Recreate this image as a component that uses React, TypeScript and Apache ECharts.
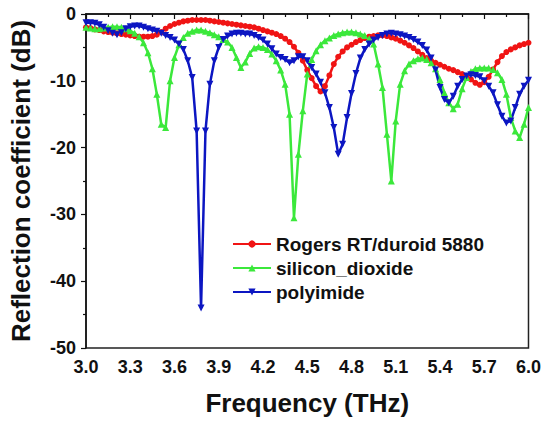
import React, { useEffect, useRef } from "react";
import * as echarts from "echarts";

// Frequency sample points (THz), 3.00 .. 6.00 every 0.03
const freq: number[] = Array.from({ length: 101 }, (_, i) => +(3 + i * 0.03).toFixed(2));

const rogers: number[] = [
  -2.0, -2.1, -2.3, -2.4, -2.6, -2.7, -2.8, -2.9, -3.0, -3.1,
  -3.2, -3.3, -3.4, -3.4, -3.4, -3.3, -3.1, -2.7, -2.2, -1.8,
  -1.5, -1.3, -1.1, -1.0, -0.9, -0.9, -0.9, -0.9, -1.0, -1.1,
  -1.2, -1.3, -1.4, -1.5, -1.6, -1.7, -1.8, -1.9, -2.0, -2.2,
  -2.4, -2.6, -2.8, -3.0, -3.3, -3.7, -4.2, -4.9, -5.8, -7.0,
  -8.4, -9.6, -10.8, -11.6, -10.8, -9.2, -7.5, -6.4, -5.6, -5.0,
  -4.6, -4.2, -3.9, -3.6, -3.4, -3.3, -3.2, -3.2, -3.3, -3.5,
  -3.7, -4.0, -4.3, -4.7, -5.1, -5.6, -6.1, -6.6, -7.0, -7.3,
  -7.6, -7.9, -8.2, -8.4, -8.7, -9.0, -9.4, -9.8, -10.3, -10.6,
  -10.2, -9.4, -8.3, -7.2, -6.3, -5.7, -5.3, -5.0, -4.7, -4.5,
  -4.3,
];

const siliconDioxide: number[] = [
  -2.0, -2.1, -2.2, -2.2, -2.1, -2.0, -1.9, -1.9, -2.0, -2.2,
  -2.5, -2.9, -3.4, -4.3, -5.8, -8.2, -12.0, -16.5, -17.0, -10.0,
  -6.5, -4.6, -3.5, -2.9, -2.6, -2.4, -2.4, -2.6, -2.8, -3.1,
  -3.4, -3.8, -4.2, -5.0, -6.5, -8.0, -7.2, -5.9, -5.1, -4.9,
  -5.0, -5.3, -6.0, -7.0, -8.4, -10.5, -15.0, -30.5, -21.0, -14.5,
  -9.0, -6.8, -5.5, -4.6, -4.0, -3.6, -3.2, -3.0, -2.8, -2.7,
  -2.7, -2.8, -3.0, -3.2, -3.7, -4.5, -7.5, -11.0, -18.0, -25.0,
  -16.0, -10.5, -8.5, -7.5, -7.0, -6.7, -6.6, -6.8, -7.3, -8.2,
  -9.8, -11.8, -13.3, -14.2, -13.5, -11.2, -9.5, -8.6, -8.2, -8.1,
  -8.1, -8.1, -8.3, -8.8, -9.8, -12.0, -15.5, -17.5, -18.5, -16.5,
  -14.0,
];

const polyimide: number[] = [
  -1.3, -1.3, -1.4, -1.6, -2.0, -2.5, -2.9, -3.1, -2.8, -2.2,
  -1.9, -1.8, -1.8, -2.0, -2.2, -2.4, -2.6, -2.9, -3.2, -3.5,
  -3.9, -4.5, -5.3, -7.0, -9.5, -17.5, -44.0, -17.5, -10.5, -7.0,
  -5.0, -3.8, -3.3, -3.0, -2.9, -2.9, -3.0, -3.0, -3.2, -3.5,
  -3.9, -4.5, -5.2, -6.0, -6.5, -6.8, -7.3, -7.0, -6.4, -6.4,
  -7.0, -8.0, -9.0, -10.2, -11.8, -14.0, -17.0, -21.0, -19.5, -15.5,
  -11.9, -8.9, -6.6, -5.3, -4.5, -3.9, -3.5, -3.2, -3.0, -2.9,
  -3.0, -3.1, -3.3, -3.5, -3.8, -4.2, -4.7, -5.4, -6.6, -8.4,
  -11.0, -12.8, -13.3, -12.3, -10.8, -9.8, -9.3, -9.1, -9.2, -9.4,
  -10.0, -10.8, -11.8, -13.6, -15.3, -16.3, -16.0, -14.0, -12.0, -10.8,
  -9.9,
];

const seriesNames = ["Rogers RT/duroid 5880", "silicon_dioxide", "polyimide"];
const colors = ["#f01414", "#3be83b", "#0c16c2"];

const FONT = "'Liberation Sans', Arial, sans-serif";

export default function App() {
  const ref = useRef<HTMLDivElement>(null);
  useEffect(() => {
    if (!ref.current) return;
    const chart = echarts.init(ref.current, undefined, { renderer: "svg" });
    const pair = (ys: number[]) => ys.map((y, i) => [freq[i], y]);
    chart.setOption({
      animation: false,
      backgroundColor: "#fff",
      grid: {
        left: 82,
        right: 15,
        top: 14,
        bottom: 75,
        show: true,
        borderColor: "#222",
        borderWidth: 1.5,
      },
      legend: {
        orient: "vertical",
        left: 227,
        top: 229,
        itemWidth: 38,
        itemHeight: 9,
        itemGap: 4,
        textStyle: {
          fontFamily: FONT,
          fontWeight: "bold",
          fontSize: 19,
          color: "#111",
          lineHeight: 20,
        },
        data: seriesNames,
      },
      xAxis: {
        type: "value",
        min: 3,
        max: 6,
        interval: 0.3,
        name: "Frequency (THz)",
        nameLocation: "middle",
        nameGap: 42,
        nameTextStyle: { fontFamily: FONT, fontWeight: "bold", fontSize: 26, color: "#111" },
        axisLine: { show: true, lineStyle: { color: "#111", width: 1.5 } },
        axisTick: { show: true, inside: false, length: 5, lineStyle: { color: "#111", width: 1.2 } },
        minorTick: { show: true, splitNumber: 2, length: 3, lineStyle: { color: "#111", width: 1.2 } },
        splitLine: { show: false },
        axisLabel: {
          margin: 10,
          fontFamily: FONT,
          fontWeight: "bold",
          fontSize: 18,
          color: "#111",
          formatter: (v: number) => v.toFixed(1),
        },
      },
      yAxis: {
        type: "value",
        min: -50,
        max: 0,
        interval: 10,
        name: "Reflection coefficient (dB)",
        nameLocation: "middle",
        nameGap: 52,
        nameTextStyle: { fontFamily: FONT, fontWeight: "bold", fontSize: 26, color: "#111" },
        axisLine: { show: true, lineStyle: { color: "#111", width: 1.5 } },
        axisTick: { show: true, inside: false, length: 5, lineStyle: { color: "#111", width: 1.2 } },
        minorTick: { show: true, splitNumber: 2, length: 3, lineStyle: { color: "#111", width: 1.2 } },
        splitLine: { show: false },
        axisLabel: {
          margin: 10,
          fontFamily: FONT,
          fontWeight: "bold",
          fontSize: 18,
          color: "#111",
        },
      },
      series: [
        {
          name: seriesNames[0],
          type: "line",
          data: pair(rogers),
          symbol: "circle",
          symbolSize: 6,
          color: colors[0],
          lineStyle: { width: 2.5, color: colors[0] },
          itemStyle: { color: colors[0] },
        },
        {
          name: seriesNames[1],
          type: "line",
          data: pair(siliconDioxide),
          symbol: "triangle",
          symbolSize: 7,
          color: colors[1],
          lineStyle: { width: 2.5, color: colors[1] },
          itemStyle: { color: colors[1] },
        },
        {
          name: seriesNames[2],
          type: "line",
          data: pair(polyimide),
          symbol: "triangle",
          symbolRotate: 180,
          symbolSize: 7,
          color: colors[2],
          lineStyle: { width: 2.5, color: colors[2] },
          itemStyle: { color: colors[2] },
        },
      ],
    });
    return () => chart.dispose();
  }, []);
  return (
    <div
      ref={ref}
      style={{ position: "absolute", left: 0, top: 0, width: 544, height: 423 }}
    />
  );
}
